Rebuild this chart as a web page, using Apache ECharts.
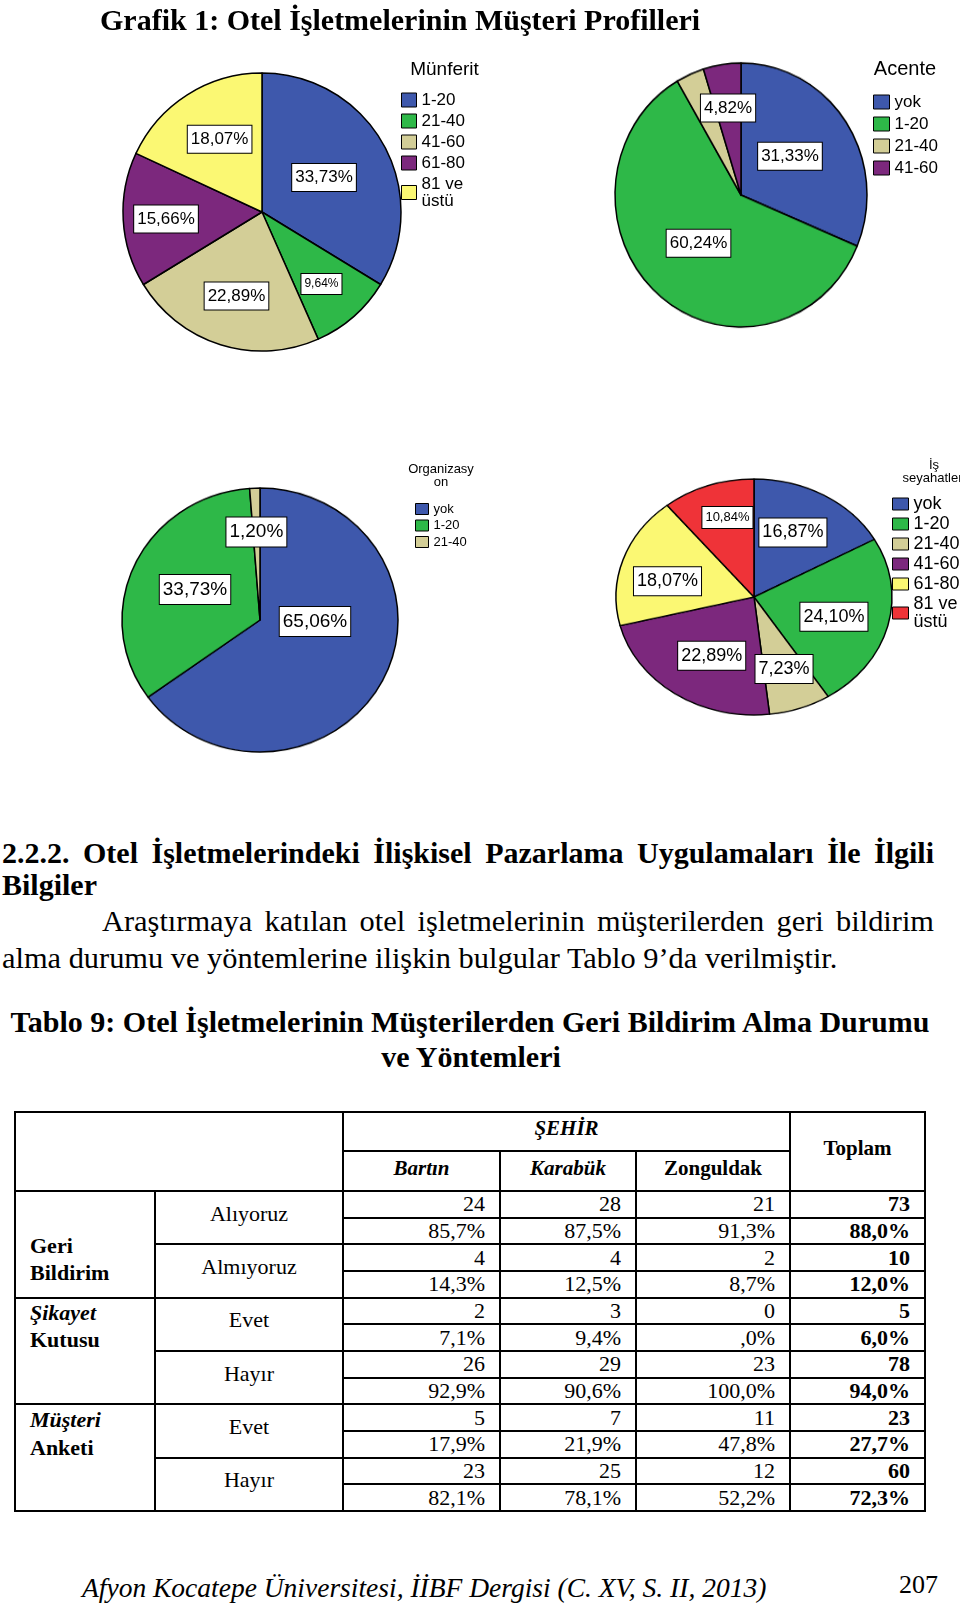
<!DOCTYPE html>
<html><head><meta charset="utf-8">
<script src="https://cdn.jsdelivr.net/npm/echarts@6/dist/echarts.min.js"></script>
<style>
html,body{margin:0;padding:0;background:#fff;}
body{width:960px;height:1604px;position:relative;overflow:hidden;}
.pie{position:absolute;width:300px;height:300px;z-index:1;transform-origin:50% 50%;}
#main{position:absolute;left:0;top:0;width:960px;height:780px;z-index:2;}
.t{position:absolute;white-space:nowrap;font-family:'Liberation Serif','Times New Roman',serif;color:#000;line-height:1;}
.j{text-align:justify;text-align-last:justify;white-space:normal;}
#tbl{position:absolute;left:14px;top:1111px;border-collapse:collapse;table-layout:fixed;width:912px;font-family:'Liberation Serif','Times New Roman',serif;font-size:22px;color:#000;}
#tbl td{border:2px solid #000;padding:0;line-height:22px;vertical-align:middle;}
#tbl tr.d{height:26.67px;}
#tbl td.h{font-weight:bold;text-align:center;font-size:21px;padding-bottom:7px;}
#tbl .bi{font-style:italic;font-weight:bold;}
#tbl td.num{text-align:right;padding-right:14px;}
#tbl td.tot{font-weight:bold;}
#tbl td.grp{vertical-align:top;text-align:left;font-weight:bold;padding-left:14px;line-height:27.5px;}
#tbl td.rl{text-align:center;padding-bottom:8px;}
</style>
</head><body>
<div id="main"></div>
<script>
// ---------- data ----------
const munferitCats = ['1-20','21-40','41-60','61-80','81 ve üstü'];
const munferitVals = [33.73, 9.64, 22.89, 15.66, 18.07];
const acenteCats = ['yok','1-20','21-40','41-60'];
const acenteVals = [31.33, 60.24, 3.61, 4.82];
const orgCats = ['yok','1-20','21-40'];
const orgVals = [65.06, 33.73, 1.20];
const isCats = ['yok','1-20','21-40','41-60','61-80','81 ve üstü'];
const isVals = [16.87, 24.10, 7.23, 22.89, 18.07, 10.84];

const cities = ['Bartın','Karabük','Zonguldak'];
const groupLabels = [['Geri','Bildirim'],['Şikayet','Kutusu'],['Müşteri','Anketi']];
const rowLabels = ['Alıyoruz','Almıyoruz','Evet','Hayır','Evet','Hayır'];
const counts = [[24,28,21,73],[4,4,2,10],[2,3,0,5],[26,29,23,78],[5,7,11,23],[23,25,12,60]];
const percents = [[85.7,87.5,91.3,88.0],[14.3,12.5,8.7,12.0],[7.1,9.4,0,6.0],[92.9,90.6,100.0,94.0],[17.9,21.9,47.8,27.7],[82.1,78.1,52.2,72.3]];

// ---------- styles / layout ----------
const palette = ['#3E58AC','#2EB848','#D3CE97','#7C287D','#FBF873','#EF3338'];
const SANS = "'Liberation Sans', Arial, sans-serif";
const SERIF = "'Liberation Serif', 'Times New Roman', serif";

const pies = [
  {cats: munferitCats, vals: munferitVals, cx:262, cy:212, rx:139, ry:139,
   ls:[17,12,17,17,17], off:[[-1.2,1],[11.7,17.4],[-3.9,14.8],[-23.6,2.8],[-3.4,-11.5]], hide:[],
   lg:{left:401, top:91.5, iw:15, ih:14, gap:4, fs:17},
   tt:{text:'Münferit', x:444.5, y:69.4, fs:19, lh:19}},
  {cats: acenteCats, vals: acenteVals, cx:741, cy:195, rx:126, ry:132,
   ls:[17,17,17,17], off:[[-6,-2.3],[1,-1.3],[0,0],[-3,-21.7]], hide:[2],
   lg:{left:873, top:93.5, iw:16, ih:14, gap:5, fs:17},
   tt:{text:'Acente', x:905, y:69, fs:20, lh:20}},
  {cats: orgCats, vals: orgVals, cx:260, cy:620, rx:138, ry:132,
   ls:[19,19,19], off:[[-9.1,-31.4],[0.3,-0.1],[-0.9,-16]], hide:[],
   lg:{left:415, top:502.5, iw:13, ih:11, gap:3.5, fs:13},
   tt:{text:'Organizasy\non', x:441, y:476.3, fs:13, lh:13}},
  {cats: isCats, vals: isVals, cx:754, cy:597, rx:138, ry:118,
   ls:[18,18,18,18,18,13], off:[[2.5,-2.4],[10.1,2.3],[6,4.2],[-1.3,-0.5],[-18.2,7],[-2.5,-11.7]], hide:[],
   lg:{left:892, top:495, iw:16, ih:12, gap:2, fs:18},
   tt:{text:'İş\nseyahatleri', x:934, y:471.7, fs:13, lh:13}}
];

const fmtPct = v => v.toFixed(2).replace('.', ',') + '%';

// slices (each pie in its own instance so it can be scaled to the reference's ellipse)
pies.forEach(p => {
  const d = document.createElement('div');
  d.className = 'pie';
  d.style.left = (p.cx - 150) + 'px';
  d.style.top = (p.cy - 150) + 'px';
  d.style.transform = 'scaleY(' + (p.ry / p.rx) + ')';
  document.body.appendChild(d);
  echarts.init(d).setOption({
    animation:false,
    series:[{type:'pie', radius:p.rx, center:['50%','50%'], startAngle:90, clockwise:true, silent:true,
      label:{show:false}, labelLine:{show:false},
      itemStyle:{borderColor:'#000', borderWidth:1.5},
      data:p.cats.map((c,i)=>({name:c, value:p.vals[i], itemStyle:{color:palette[i]}}))}]
  });
});

// labels, legends, titles
const main = echarts.init(document.getElementById('main'));
main.setOption({
  animation:false,
  graphic:[
    {type:'text', x:100, y:22, style:{text:'Grafik 1: Otel İşletmelerinin Müşteri Profilleri', fontFamily:SERIF, fontWeight:'bold', fontSize:30, fill:'#000', verticalAlign:'middle'}}
  ].concat(pies.map(p => ({type:'text', x:p.tt.x, y:p.tt.y,
    style:{text:p.tt.text, fontFamily:SANS, fontSize:p.tt.fs, lineHeight:p.tt.lh, fill:'#000', align:'center', verticalAlign:'middle'}}))),
  legend: pies.map(p => ({
    orient:'vertical', left:p.lg.left, top:p.lg.top, padding:0,
    itemWidth:p.lg.iw, itemHeight:p.lg.ih, itemGap:p.lg.gap, icon:'rect', selectedMode:false,
    textStyle:{fontFamily:SANS, fontSize:p.lg.fs, color:'#000'},
    itemStyle:{borderColor:'#000', borderWidth:1},
    formatter: n => n.replace(' üstü', '\nüstü'),
    data: p.cats.map((c,i)=>({name:c, itemStyle:{color:palette[i]}}))
  })),
  series: pies.map(p => ({
    type:'pie', silent:true, center:[p.cx, p.cy], radius:p.rx, startAngle:90, clockwise:true,
    itemStyle:{color:'rgba(0,0,0,0)', borderWidth:0},
    emphasis:{disabled:true},
    labelLine:{show:false},
    label:{show:true, position:'inside', rotate:0, overflow:'none', color:'#000', fontFamily:SANS,
      backgroundColor:'#fff', borderColor:'#000', borderWidth:1, padding:[5,3],
      formatter: prm => fmtPct(prm.value)},
    labelLayout: prm => ({dx:p.off[prm.dataIndex][0], dy:p.off[prm.dataIndex][1]}),
    data: p.cats.map((c,i)=>({name:c, value:p.vals[i],
      label:{show: p.hide.indexOf(i) < 0, fontSize:p.ls[i], padding: p.ls[i] < 14 ? [4,3] : [5,3]}}))
  }))
});

// ---------- text ----------
const lines = [
  {t:'2.2.2. Otel İşletmelerindeki İlişkisel Pazarlama Uygulamaları İle İlgili', x:2, w:932, base:863, fs:30, b:1, j:1},
  {t:'Bilgiler', x:2, base:895, fs:30, b:1},
  {t:'Araştırmaya katılan otel işletmelerinin müşterilerden geri bildirim', x:102, w:832, base:931.5, fs:30.4, j:1},
  {t:'alma durumu ve yöntemlerine ilişkin bulgular Tablo 9’da verilmiştir.', x:2, base:968, fs:30.4},
  {t:'Tablo 9: Otel İşletmelerinin Müşterilerden Geri Bildirim Alma Durumu', x:0, w:940, base:1032, fs:30, b:1, c:1},
  {t:'ve Yöntemleri', x:0, w:942, base:1067, fs:30, b:1, c:1},
  {t:'Afyon Kocatepe Üniversitesi, İİBF Dergisi (C. XV, S. II, 2013)', x:82, base:1597, fs:27.5, i:1},
  {t:'207', x:899, base:1594, fs:26}
];
lines.forEach(L => {
  const d = document.createElement('div');
  d.className = 't' + (L.j ? ' j' : '');
  d.textContent = L.t;
  d.style.left = L.x + 'px';
  d.style.top = (L.base - 0.8375 * L.fs) + 'px';
  d.style.fontSize = L.fs + 'px';
  if (L.w) d.style.width = L.w + 'px';
  if (L.b) d.style.fontWeight = 'bold';
  if (L.i) d.style.fontStyle = 'italic';
  if (L.c) d.style.textAlign = 'center';
  document.body.appendChild(d);
});

// ---------- table ----------
const colW = [140, 188, 157, 136, 154, 135];
const grpPad = [39.5, 0, 0.8];
const pct = v => v === 0 ? ',0%' : v.toFixed(1).replace('.', ',') + '%';
let h = '<table id="tbl"><colgroup>' + colW.map(w => '<col style="width:' + w + 'px">').join('') + '</colgroup>';
h += '<tr style="height:39px"><td colspan="2" rowspan="2"></td><td colspan="3" class="h"><span class="bi">ŞEHİR</span></td><td rowspan="2" class="h">Toplam</td></tr>';
h += '<tr style="height:40px">' + cities.map((c, i) => '<td class="h">' + (i < 2 ? '<span class="bi">' + c + '</span>' : c) + '</td>').join('') + '</tr>';
for (let g = 0; g < 3; g++) {
  for (let r = 0; r < 2; r++) {
    const k = 2 * g + r;
    h += '<tr class="d">';
    if (r === 0) h += '<td rowspan="4" class="grp" style="padding-top:' + grpPad[g] + 'px">' +
      (g > 0 ? '<span class="bi">' + groupLabels[g][0] + '</span>' : groupLabels[g][0]) + '<br>' + groupLabels[g][1] + '</td>';
    h += '<td rowspan="2" class="rl">' + rowLabels[k] + '</td>';
    h += counts[k].map((v, j) => '<td class="num' + (j === 3 ? ' tot' : '') + '">' + v + '</td>').join('');
    h += '</tr><tr class="d">' + percents[k].map((v, j) => '<td class="num' + (j === 3 ? ' tot' : '') + '">' + pct(v) + '</td>').join('') + '</tr>';
  }
}
h += '</table>';
const wrap = document.createElement('div');
wrap.innerHTML = h;
document.body.appendChild(wrap.firstChild);
</script>
</body></html>
